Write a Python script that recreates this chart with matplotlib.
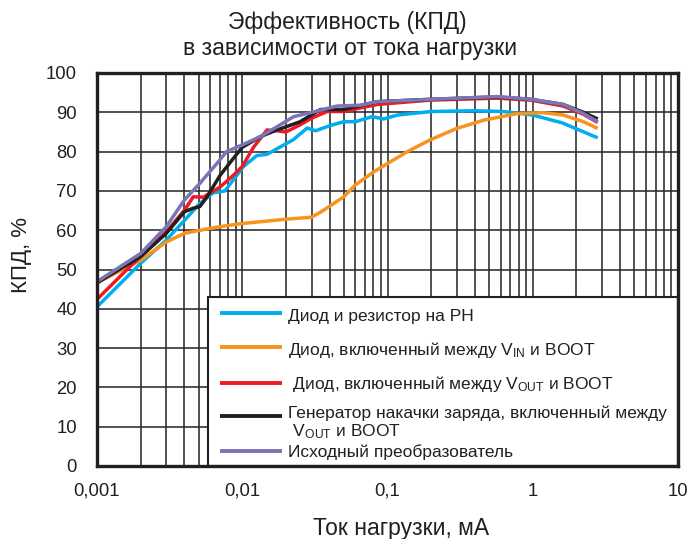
import matplotlib
matplotlib.use("Agg")
import matplotlib.pyplot as plt
from matplotlib.patches import Rectangle
from matplotlib.ticker import LogLocator, FixedLocator, FixedFormatter, NullFormatter

plt.rcParams['font.family'] = ['Liberation Sans', 'DejaVu Sans']
plt.rcParams['mathtext.fontset'] = 'custom'
plt.rcParams['mathtext.rm'] = 'Liberation Sans'
plt.rcParams['mathtext.it'] = 'Liberation Sans'
plt.rcParams['mathtext.bf'] = 'Liberation Sans:bold'

# Load current, mA, and efficiency, %, for each bootstrap option
blue_x = [0.001, 0.002, 0.003, 0.004, 0.0051, 0.0063, 0.0076, 0.0102, 0.0126, 0.0148,
          0.0224, 0.028, 0.032, 0.04, 0.05, 0.06, 0.0785, 0.094, 0.117, 0.2, 0.39,
          0.63, 1.0, 1.6, 2.8]
blue_y = [40.5, 51.6, 57.5, 62.5, 66.8, 69.5, 70.0, 76.2, 79.0, 79.3,
          83.0, 86.0, 85.3, 86.6, 87.6, 87.6, 88.9, 88.3, 89.3, 90.2, 90.4,
          90.2, 89.3, 87.3, 83.5]

orange_x = [0.001, 0.002, 0.003, 0.004, 0.005, 0.007, 0.01, 0.02, 0.03, 0.035,
            0.05, 0.06, 0.08, 0.137, 0.197, 0.30, 0.46, 0.79, 1.18, 1.62, 2.23, 2.8]
orange_y = [46.6, 52.4, 57.0, 59.2, 59.9, 60.9, 61.7, 62.8, 63.3, 64.7,
            68.5, 71.5, 74.8, 80.0, 83.0, 85.9, 88.0, 89.7, 89.9, 89.3, 87.6, 85.9]

red_x = [0.001, 0.0016, 0.002, 0.003, 0.004, 0.0046, 0.0054, 0.00705, 0.0087, 0.01,
         0.012, 0.0148, 0.0173, 0.02, 0.025, 0.03, 0.0384, 0.05, 0.065, 0.085,
         0.197, 0.57, 0.97, 1.62, 2.23, 2.8]
red_y = [42.4, 49.9, 53.3, 59.6, 65.1, 68.5, 68.4, 71.0, 74.0, 76.2,
         81.2, 85.5, 85.3, 85.0, 86.8, 88.5, 90.2, 90.2, 91.1, 92.0,
         93.1, 93.6, 93.1, 91.6, 89.5, 87.4]

black_x = [0.001, 0.002, 0.003, 0.004, 0.0046, 0.0051, 0.0057, 0.00705, 0.0087, 0.01,
           0.0133, 0.0173, 0.02, 0.025, 0.0345, 0.05, 0.085, 0.197, 0.57, 0.97,
           1.62, 2.23, 2.8]
black_y = [46.6, 53.3, 59.2, 64.7, 65.6, 66.0, 68.4, 74.0, 78.3, 81.1,
           83.8, 85.5, 86.3, 87.6, 90.7, 90.7, 92.7, 93.3, 93.9, 93.3,
           92.0, 90.0, 88.3]

purple_x = [0.001, 0.002, 0.003, 0.004, 0.0051, 0.0057, 0.0067, 0.0078, 0.01, 0.0133,
            0.0173, 0.0226, 0.028, 0.045, 0.065, 0.085, 0.197, 0.57, 0.97, 1.62,
            2.23, 2.8]
purple_y = [46.9, 54.1, 60.9, 67.7, 71.9, 74.0, 77.0, 80.0, 81.7, 83.8,
            86.3, 88.9, 89.7, 91.6, 91.8, 92.7, 93.3, 94.0, 93.3, 92.0,
            89.7, 87.6]

labels = [
    "Диод и резистор на РН",
    "Диод, включенный между V$_{\\mathregular{IN}}$ и BOOT",
    " Диод, включенный между V$_{\\mathregular{OUT}}$ и BOOT",
    "Генератор накачки заряда, включенный между\n V$_{\\mathregular{OUT}}$ и BOOT",
    "Исходный преобразователь",
]
colors = ["#00AEEF", "#F7941D", "#ED1C24", "#231F20", "#7B75B8"]

x_ticks = [0.001, 0.01, 0.1, 1, 10]
x_tick_labels = ["0,001", "0,01", "0,1", "1", "10"]
y_ticks = list(range(0, 101, 10))

W, H = 689, 539
fig = plt.figure(figsize=(W / 100, H / 100), dpi=100)
AX_L, AX_R, AX_T, AX_B = 97, 678, 73, 466
ax = fig.add_axes([AX_L / W, (H - AX_B) / H, (AX_R - AX_L) / W, (AX_B - AX_T) / H])

series = [(blue_x, blue_y), (orange_x, orange_y), (red_x, red_y),
          (black_x, black_y), (purple_x, purple_y)]
for (xs, ys), c in zip(series, colors):
    ax.plot(xs, ys, color=c, lw=2.5, solid_capstyle='butt', zorder=3)

ax.set_xscale('log')
ax.set_xlim(0.001, 10)
ax.set_ylim(0, 100)
ax.xaxis.set_major_locator(FixedLocator(x_ticks))
ax.xaxis.set_major_formatter(FixedFormatter(x_tick_labels))
ax.xaxis.set_minor_locator(LogLocator(base=10, subs=range(2, 10)))
ax.xaxis.set_minor_formatter(NullFormatter())
ax.set_yticks(y_ticks)

ax.grid(True, which='both', axis='x', color='#2a2a2a', lw=1.15, zorder=1)
ax.grid(True, which='major', axis='y', color='#2a2a2a', lw=1.15, zorder=1)
ax.tick_params(which='both', length=0, labelsize=13.3, colors='#231F20')
ax.tick_params(axis='x', pad=12)
ax.tick_params(axis='y', pad=14.5)
for s in ax.spines.values():
    s.set_linewidth(2.4)
    s.set_color('#231F20')
    s.set_zorder(6)

# axis titles and chart title
fig.text(401 / W, (H - 535) / H, "Ток нагрузки, мА", ha='center', va='baseline',
         fontsize=16.5, color='#231F20')
fig.text(22 / W, 1 - 255 / H, "КПД, %", ha='center', va='center', rotation=90,
         fontsize=16, color='#231F20')
fig.text(347 / W, 1 - 28.5 / H, "Эффективность (КПД)", ha='center', va='baseline',
         fontsize=16.5, color='#231F20')
fig.text(350 / W, 1 - 55 / H, "в зависимости от тока нагрузки", ha='center',
         va='baseline', fontsize=16.5, color='#231F20')

# legend box in the lower right corner of the plot
def ax_x(px):
    return (px - AX_L) / (AX_R - AX_L)

def ax_y(py):
    return (AX_B - py) / (AX_B - AX_T)

ax.add_patch(Rectangle((ax_x(208), 0), ax_x(AX_R) - ax_x(208), ax_y(297),
                       transform=ax.transAxes, facecolor='white',
                       edgecolor='#231F20', lw=1.5, zorder=5, clip_on=False))
handle_y = [313.3, 347.3, 382.7, 416, 450.7]
text_base = [[320.5], [355], [388.5], [418, 436.5], [457]]
text_x = [288, 288, 288, 288, 288]
for c, lab, hy, bases, tx in zip(colors, labels, handle_y, text_base, text_x):
    ax.plot([ax_x(220), ax_x(282)], [ax_y(hy), ax_y(hy)], color=c, lw=2.8,
            transform=ax.transAxes, zorder=6, clip_on=False, solid_capstyle='butt')
    for line, by in zip(lab.split("\n"), bases):
        ax.text(ax_x(tx), ax_y(by), line, transform=ax.transAxes, ha='left',
                va='baseline', fontsize=12.5, color='#231F20', zorder=7)

fig.savefig("out.png", dpi=100)
